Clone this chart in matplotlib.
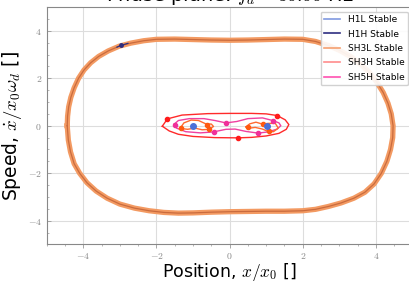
import matplotlib
matplotlib.use("Agg")
import matplotlib.pyplot as plt
from matplotlib.lines import Line2D
from matplotlib.ticker import FuncFormatter, AutoMinorLocator, MultipleLocator

plt.rcParams['mathtext.fontset'] = 'cm'
plt.rcParams['font.family'] = ['DejaVu Sans']

# ---------------- data ----------------
# Large SH3L orbit
big_x = [-4.44, -4.43, -4.40, -4.34, -4.25, -4.13, -3.98, -3.80, -3.58, -3.32, -3.02,
         -2.70, -2.35, -2.00, -1.50, -1.00, -0.50, 0.00, 0.50, 1.00, 1.50, 2.00, 2.35,
         2.70, 3.00, 3.30, 3.58, 3.82, 4.02, 4.20, 4.33, 4.42, 4.47, 4.46, 4.40, 4.30,
         4.15, 3.95, 3.70, 3.40, 3.05, 2.70, 2.35, 2.00, 1.50, 1.00, 0.50, 0.00, -0.50,
         -1.00, -1.40, -1.80, -2.20, -2.60, -3.00, -3.35, -3.65, -3.90, -4.10, -4.25,
         -4.35, -4.41, -4.44]
big_y = [0.00, 0.40, 0.80, 1.20, 1.60, 2.00, 2.35, 2.65, 2.92, 3.15, 3.35,
         3.48, 3.58, 3.64, 3.65, 3.63, 3.61, 3.60, 3.61, 3.63, 3.65, 3.64, 3.55,
         3.38, 3.18, 2.92, 2.60, 2.25, 1.85, 1.40, 0.95, 0.50, 0.00, -0.50, -1.00, -1.50,
         -2.00, -2.45, -2.80, -3.05, -3.25, -3.40, -3.52, -3.58, -3.60, -3.60, -3.61, -3.62, -3.64,
         -3.67, -3.68, -3.65, -3.58, -3.47, -3.30, -3.05, -2.75, -2.40, -2.00, -1.60,
         -1.10, -0.60, 0.00]

# H1H small segment + point
h1h_x = [-3.08, -2.98, -2.78]
h1h_y = [3.31, 3.38, 3.47]
h1h_px = [-2.98]
h1h_py = [3.38]

# H1L points
h1l_x = [-1.00, 1.01]
h1l_y = [-0.01, -0.03]

# SH3H red loop
red_x = [-1.84, -1.70, -1.30, -0.60, 0.00, 0.60, 1.00, 1.30, 1.52, 1.62, 1.55,
         1.35, 1.00, 0.60, 0.22, -0.40, -1.00, -1.40, -1.65, -1.84]
red_y = [-0.02, 0.29, 0.45, 0.51, 0.52, 0.52, 0.50, 0.43, 0.25, 0.05, -0.15,
         -0.32, -0.43, -0.49, -0.51, -0.50, -0.45, -0.36, -0.22, -0.02]
red_px = [-1.70, 1.30, 0.22]
red_py = [0.29, 0.43, -0.51]

# SH5H pink loop
pink_x = [-1.52, -1.40, -1.10, -0.70, -0.40, -0.10, 0.20, 0.50, 0.90, 1.18, 1.35,
          1.40, 1.30, 1.05, 0.78, 0.45, 0.15, -0.10, -0.44, -0.80, -1.20, -1.45, -1.52]
pink_y = [0.06, 0.22, 0.30, 0.30, 0.22, 0.12, 0.18, 0.30, 0.33, 0.22, 0.12,
          0.00, -0.14, -0.26, -0.31, -0.24, -0.14, -0.15, -0.26, -0.30, -0.25, -0.10, 0.06]
pink_px = [-1.50, -0.44, -0.10, 0.78, 1.18]
pink_py = [0.05, -0.26, 0.12, -0.31, 0.20]

# SH3L small lobes
orl_x = [-1.33, -1.25, -1.05, -0.85, -0.65, -0.50, -0.44, -0.56, -0.75, -0.95, -1.15, -1.30, -1.33]
orl_y = [-0.06, 0.12, 0.24, 0.22, 0.08, 0.07, -0.03, -0.15, -0.17, -0.10, -0.15, -0.12, -0.06]
orl_px = [-1.32, -0.63, -0.56]
orl_py = [-0.10, 0.05, -0.15]

orr_x = [0.45, 0.55, 0.72, 0.90, 1.05, 1.25, 1.33, 1.20, 1.05, 0.90, 0.70, 0.55, 0.45]
orr_y = [-0.05, 0.08, 0.15, 0.07, 0.10, 0.10, -0.10, -0.25, -0.24, -0.14, -0.07, -0.10, -0.05]
orr_px = [0.49, 0.92, 1.08]
orr_py = [-0.06, 0.06, -0.21]

legend_labels = ["H1L Stable", "H1H Stable", "SH3L Stable", "SH3H Stable", "SH5H Stable"]
legend_colors = ["#8099e0", "#2e2e80", "#f5a070", "#ff8c8c", "#ff50b0"]

title = r"Phase plane: $f_d = 30.00$ Hz"
xlabel = r"Position, $x/x_0$ []"
ylabel = r"Speed, $\dot{x}/x_0\omega_d$ []"

# ---------------- plot ----------------
fig = plt.figure(figsize=(4.10, 2.81), dpi=100)
ax = fig.add_axes([0.114, 0.130, 0.892, 0.845])

ax.plot(big_x, big_y, color="#f39a62", lw=3.8, solid_joinstyle='round', zorder=2)
ax.plot(big_x, big_y, color="#b8582f", lw=0.9, alpha=0.7, zorder=3)

ax.plot(h1h_x, h1h_y, color="#2e2e80", lw=0.9, zorder=4)
ax.plot(h1h_px, h1h_py, 'o', color="#2e2e80", ms=2.5, zorder=5)

ax.plot(red_x, red_y, color="#ff2a2a", lw=1.0, zorder=3)
ax.plot(red_px, red_py, 'o', color="#ff1a1a", ms=3, zorder=5)

ax.plot(pink_x, pink_y, color="#f040a0", lw=1.0, zorder=3)
ax.plot(pink_px, pink_py, 'o', color="#f0309a", ms=3, zorder=5)

ax.plot(orl_x, orl_y, color="#ff6a30", lw=1.0, zorder=3)
ax.plot(orr_x, orr_y, color="#ff6a30", lw=1.0, zorder=3)
ax.plot(orl_px, orl_py, 'o', color="#ff5a10", ms=3, zorder=5)
ax.plot(orr_px, orr_py, 'o', color="#ff5a10", ms=3, zorder=5)

ax.plot(h1l_x, h1l_y, 'o', color="#4a70d8", ms=4, zorder=6)

ax.set_xlim(-5, 5)
ax.set_ylim(-5, 5)
ax.xaxis.set_major_locator(MultipleLocator(2))
ax.yaxis.set_major_locator(MultipleLocator(2))
ax.xaxis.set_minor_locator(AutoMinorLocator(4))
ax.yaxis.set_minor_locator(AutoMinorLocator(4))
fmt = FuncFormatter(lambda v, p: r"$%d$" % round(v))
ax.xaxis.set_major_formatter(fmt)
ax.yaxis.set_major_formatter(fmt)
ax.tick_params(which='both', colors="#999999", labelsize=7, labelcolor="#888888")
ax.tick_params(which='major', length=3, width=0.6)
ax.tick_params(which='minor', length=1.5, width=0.5)
ax.tick_params(axis='x', which='major', pad=1.5)
ax.tick_params(axis='y', which='both', direction='in')
ax.grid(True, which='major', color="#dddddd", lw=0.8)
ax.set_axisbelow(True)
for s in ax.spines.values():
    s.set_color("#888888")
    s.set_linewidth(0.8)

ax.set_xlabel(xlabel, fontsize=12.5, labelpad=0)
ax.set_ylabel(ylabel, fontsize=13.5, labelpad=3)
ax.set_title(title, fontsize=14, pad=3)

handles = [Line2D([0], [0], color=c, lw=1.2) for c in legend_colors]
ax.legend(handles, legend_labels, loc="upper right", fontsize=6.5, labelspacing=0.6,
          handlelength=1.8, framealpha=0.9, edgecolor="#cccccc", borderaxespad=0.5)

fig.savefig("out.png", dpi=100)
